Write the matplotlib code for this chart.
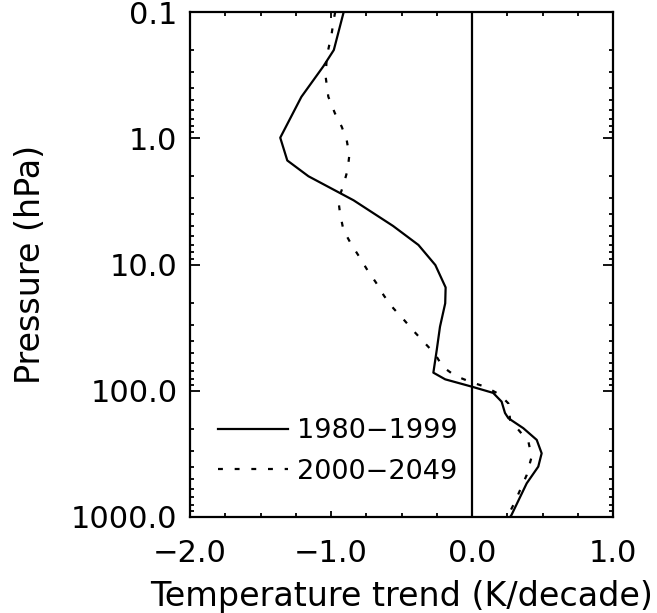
import matplotlib
matplotlib.use("Agg")
import matplotlib.pyplot as plt
from matplotlib.ticker import LogLocator, NullFormatter, MultipleLocator
import numpy as np

plt.rcParams['font.family'] = ['DejaVu Sans']

# 1980-1999 trend profile
p_1980 = [0.1, 0.2, 0.27, 0.47, 0.99, 1.5, 2.0, 3.1, 4.95, 7.0, 10.1, 15.2, 20.3, 31.1,
          47.5, 71.9, 81.2, 92.9, 104, 122, 150, 165, 198, 245, 313, 399, 541, 964, 1000]
t_1980 = [-0.91, -0.98, -1.055, -1.21, -1.36, -1.31, -1.16, -0.84, -0.56, -0.38, -0.26,
          -0.187, -0.19, -0.227, -0.25, -0.274, -0.19, 0.0, 0.15, 0.21, 0.234, 0.258,
          0.364, 0.459, 0.494, 0.47, 0.388, 0.28, 0.27]

# 2000-2049 trend profile
p_2000 = [0.1, 0.112, 0.148, 0.226, 0.325, 0.469, 0.635, 0.81, 1.03, 1.36, 1.78, 2.35,
          3.08, 3.93, 5.33, 6.8, 8.67, 11.07, 13.9, 17.7, 22.2, 27.5, 34.1, 42.1, 51.2,
          64.5, 76, 84.8, 92.9, 106.7, 126, 170, 253, 333, 465, 756, 964, 1000]
t_2000 = [-0.97, -0.979, -0.995, -1.03, -1.038, -1.019, -0.972, -0.924, -0.889, -0.87,
          -0.882, -0.912, -0.948, -0.936, -0.912, -0.86, -0.80, -0.742, -0.681, -0.624,
          -0.558, -0.482, -0.409, -0.333, -0.262, -0.208, -0.121, -0.014, 0.092, 0.194,
          0.258, 0.27, 0.40, 0.423, 0.388, 0.305, 0.258, 0.255]

x_ticks = [-2.0, -1.0, 0.0, 1.0]
x_ticklabels = ["\u22122.0", "\u22121.0", "0.0", "1.0"]
y_ticks = [0.1, 1.0, 10.0, 100.0, 1000.0]
y_ticklabels = ["0.1", "1.0", "10.0", "100.0", "1000.0"]
labels = ["1980\u22121999", "2000\u22122049"]

fig = plt.figure(figsize=(6.57, 6.13), dpi=100)
ax = fig.add_axes([190/657, 1-517/613, 423/657, 505/613])

ax.axvline(0.0, color='black', lw=1.6)
ax.plot(t_1980, p_1980, color='black', lw=1.6, label=labels[0])
ax.plot(t_2000, p_2000, color='black', lw=1.6, linestyle=(0, (2.2, 5.3)), label=labels[1])

ax.set_yscale('log')
ax.set_ylim(1000, 0.1)
ax.set_xlim(-2.0, 1.0)

ax.set_xticks(x_ticks)
ax.set_xticklabels(x_ticklabels)
ax.xaxis.set_minor_locator(MultipleLocator(0.25))
ax.set_yticks(y_ticks)
ax.set_yticklabels(y_ticklabels)
ax.yaxis.set_minor_locator(LogLocator(base=10, subs=np.arange(2, 10)))
ax.yaxis.set_minor_formatter(NullFormatter())

for s in ax.spines.values():
    s.set_linewidth(1.6)

ax.tick_params(axis='both', which='both', direction='in', top=True, right=True,
               labelsize=22, width=1.3)
ax.tick_params(axis='x', which='major', length=4.5, pad=16)
ax.tick_params(axis='x', which='minor', length=3)
ax.tick_params(axis='y', which='major', length=7, pad=9)
ax.tick_params(axis='y', which='minor', length=3)

ax.set_xlabel("Temperature trend (K/decade)", fontsize=24)
ax.xaxis.label.set_va('baseline')
ax.xaxis.set_label_coords(0.5, (517 - 606) / 505)
ax.set_ylabel("Pressure (hPa)", fontsize=24)
ax.yaxis.label.set_va('baseline')
ax.yaxis.set_label_coords((40 - 190) / 423, 0.5)

leg = ax.legend(loc='upper left', bbox_to_anchor=(0.066, 0.196), frameon=False,
                fontsize=19.5, handlelength=2.6, handletextpad=0.33, labelspacing=0.55,
                borderpad=0, borderaxespad=0)

fig.savefig("out.png", dpi=100)
